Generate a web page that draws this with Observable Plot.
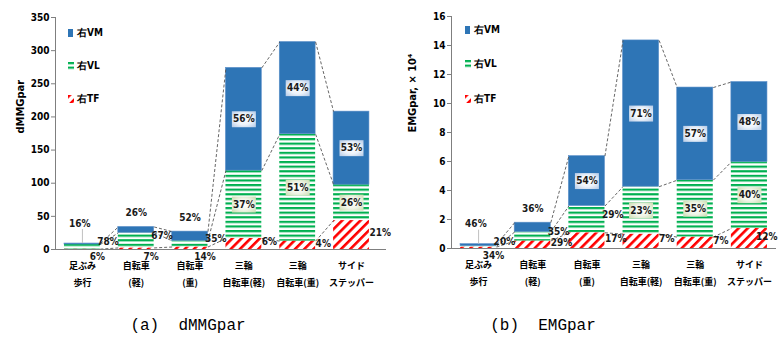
<!DOCTYPE html>
<html><head><meta charset="utf-8">
<script src="https://cdn.jsdelivr.net/npm/d3@7"></script>
<script src="https://cdn.jsdelivr.net/npm/@observablehq/plot@0.6"></script>
<style>
body{margin:0;background:#fff;width:778px;height:344px;position:relative;overflow:hidden}
#row{display:flex;position:absolute;left:0;top:0}
.leg{position:absolute;font:bold 10px "DejaVu Sans Condensed","DejaVu Sans",sans-serif;display:flex;align-items:center;gap:3px;line-height:12px}
.cap{position:absolute;top:317px;font:16px "Liberation Mono",monospace;white-space:pre;transform:translateX(-50%)}
</style></head><body>
<svg width="0" height="0" style="position:absolute">
<defs>
<pattern id="pVL" width="6" height="4.6" patternUnits="userSpaceOnUse"><rect width="6" height="4.6" fill="#fff"/><rect y="0" width="6" height="2.2" fill="#00b050"/></pattern>
<pattern id="pTF" width="6.5" height="6.5" patternUnits="userSpaceOnUse" patternTransform="rotate(45)"><rect width="6.5" height="6.5" fill="#fff"/><rect width="2.6" height="6.5" fill="#ff0000"/></pattern>
<radialGradient id="gVM" cx="50%" cy="50%" r="70%"><stop offset="0" stop-color="#ffffff"/><stop offset="0.5" stop-color="#edf3fa"/><stop offset="1" stop-color="#b3c9e6"/></radialGradient>
<radialGradient id="gVL" cx="50%" cy="50%" r="70%"><stop offset="0" stop-color="#ffffff"/><stop offset="0.5" stop-color="#f0f5e8"/><stop offset="1" stop-color="#c8dcae"/></radialGradient>
</defs></svg>
<div id="row"></div>
<div class="leg" style="left:68px;top:27px"><svg width="6" height="8"><rect width="5" height="8" fill="#2e75b6"/></svg>右VM</div>
<div class="leg" style="left:68px;top:60px"><svg width="6" height="8"><rect width="6" height="8" fill="url(#pVL)"/></svg>右VL</div>
<div class="leg" style="left:68px;top:93px"><svg width="6" height="8"><rect width="6" height="8" fill="url(#pTF)"/></svg>右TF</div>
<div class="leg" style="left:465px;top:24px"><svg width="6" height="8"><rect width="5" height="8" fill="#2e75b6"/></svg>右VM</div>
<div class="leg" style="left:465px;top:58px"><svg width="6" height="8"><rect width="6" height="8" fill="url(#pVL)"/></svg>右VL</div>
<div class="leg" style="left:465px;top:93px"><svg width="6" height="8"><rect width="6" height="8" fill="url(#pTF)"/></svg>右TF</div>
<div class="cap" style="left:188px">(a)  dMMGpar</div>
<div class="cap" style="left:543px">(b)  EMGpar</div>
<script>
const categories = ["足ぶみ\n歩行", "自転車\n(軽)", "自転車\n(重)", "三輪\n自転車(軽)", "三輪\n自転車(重)", "サイド\nステッパー"];

const dmmgTotal = [9, 34, 27, 274, 313, 208];
const dmmgVM = [16, 26, 52, 56, 44, 53];
const dmmgVL = [78, 67, 35, 37, 51, 26];
const dmmgTF = [6, 7, 14, 6, 4, 21];
const dmmgTicks = [0, 50, 100, 150, 200, 250, 300, 350];

const emgTotal = [0.3, 1.78, 6.37, 14.35, 11.1, 11.48];
const emgVM = [46, 36, 54, 71, 57, 48];
const emgVL = [20, 35, 29, 23, 35, 40];
const emgTF = [34, 29, 17, 7, 7, 12];
const emgTicks = [0, 2, 4, 6, 8, 10, 12, 14, 16];

const NUM_FONT = '"DejaVu Sans Condensed","Liberation Sans Narrow","DejaVu Sans",sans-serif';
const CJK_FONT = '"Noto Sans CJK JP",sans-serif';
const boxSym = {draw(ctx) { ctx.moveTo(-12, -8); ctx.lineTo(12, -8); ctx.lineTo(12, 8); ctx.lineTo(-12, 8); ctx.closePath(); }};

function panel(o) {
  const hw = 0.333;
  const pxPerUnit = (o.height - o.mT - o.mB) / o.ymax;
  const pxPerX = (o.width - o.mL - o.mR) / (o.xMax + 0.5);
  const rows = [];
  o.total.forEach((t, i) => {
    const parts = [["TF", o.pTF[i]], ["VL", o.pVL[i]], ["VM", o.pVM[i]]];
    const sum = d3.sum(parts, p => p[1]);
    let cum = 0;
    for (const [s, p] of parts) {
      const seg = t * p / sum;
      rows.push({i, s, y1: cum, y2: cum + seg, mid: cum + seg / 2, pct: p + "%", px: seg * pxPerUnit});
      cum += seg;
    }
  });
  const links = [];
  for (const s of ["TF", "VL", "VM"]) {
    const r = rows.filter(d => d.s === s);
    for (let k = 0; k < r.length - 1; k++) links.push({x1: r[k].i + hw, y1: r[k].y2, x2: r[k + 1].i - hw, y2: r[k + 1].y2});
  }
  const txt = {fontFamily: NUM_FONT, fontWeight: "bold", fontSize: 10, fill: "#1a1a1a", text: "pct"};
  const inside = rows.filter(d => d.s !== "TF" && d.px >= 30);
  const vmOut = rows.filter(d => d.s === "VM" && d.px < 30);
  const vlOut = rows.filter(d => d.s === "VL" && d.px < 30);
  const tfSmall = rows.filter(d => d.s === "TF" && d.px < 6);
  const tfOut = rows.filter(d => d.s === "TF" && d.px >= 6);
  const fits = d => o.mL + (d.i + hw + 0.5) * pxPerX + 20 <= o.width;
  return Plot.plot({
    width: o.width, height: o.height,
    marginLeft: o.mL, marginRight: o.mR, marginTop: o.mT, marginBottom: o.mB,
    style: {fontFamily: NUM_FONT, fontSize: "10px", background: "#fff", color: "#000"},
    x: {domain: [-0.5, o.xMax], axis: null},
    y: {domain: [0, o.ymax], axis: null},
    marks: [
      Plot.rectY(rows.filter(d => d.s === "TF"), {x1: d => d.i - hw, x2: d => d.i + hw, y1: "y1", y2: "y2", fill: "url(#pTF)"}),
      Plot.rectY(rows.filter(d => d.s === "VL"), {x1: d => d.i - hw, x2: d => d.i + hw, y1: "y1", y2: "y2", fill: "url(#pVL)"}),
      Plot.rectY(rows.filter(d => d.s === "VM"), {x1: d => d.i - hw, x2: d => d.i + hw, y1: "y1", y2: "y2", fill: "#2e75b6", stroke: "#5b8fc9", strokeWidth: 0.6}),
      Plot.link(links, {x1: "x1", y1: "y1", x2: "x2", y2: "y2", stroke: "#555", strokeWidth: 0.9, strokeDasharray: "3,2"}),
      Plot.ruleY([0], {stroke: "#7f7f7f"}),
      Plot.frame({anchor: "left", stroke: "#7f7f7f"}),
      Plot.axisY({ticks: o.ticks, tickSize: 4, tickPadding: 2, stroke: "#7f7f7f", fontWeight: "bold", fontSize: 10, label: null}),
      Plot.axisX({ticks: categories.map((_, i) => i), tickFormat: i => categories[i], tickSize: 0, tickPadding: 8, lineHeight: 1.85, fontFamily: CJK_FONT, fontWeight: "bold", fontSize: 9, label: null}),
      Plot.text([o.label], {frameAnchor: "left", rotate: -90, dx: -o.labelOff, text: d => d, fontWeight: "bold", fontSize: 11, fontFamily: NUM_FONT}),
      Plot.dot(inside, {x: "i", y: "mid", symbol: boxSym, r: 5, fill: d => d.s === "VM" ? "url(#gVM)" : "url(#gVL)", stroke: "none"}),
      Plot.text(inside, {x: "i", y: "mid", ...txt}),
      Plot.ruleX(vmOut.filter(d => d.px < 3), {x: "i", y1: "y2", y2: d => d.y2 + 14 / pxPerUnit, stroke: "#c0c0c0"}),
      Plot.text(vmOut.filter(d => d.px < 3), {x: d => d.i - 0.05, y: "y2", dy: -20, ...txt}),
      Plot.text(vmOut.filter(d => d.px >= 3), {x: "i", y: "y2", dy: -14, ...txt}),
      Plot.text(vlOut, {x: d => d.i + hw, y: "mid", textAnchor: "start", dx: -3, dy: -5, ...txt}),
      Plot.text(tfSmall, {x: d => d.i + hw, y: 0, textAnchor: "middle", dx: -3, dy: 7, ...txt}),
      Plot.text(tfOut.filter(fits), {x: d => d.i + hw, y: "mid", textAnchor: "start", dx: 0, dy: -2, ...txt}),
      Plot.text(tfOut.filter(d => !fits(d)), {x: d => d.i + hw, y: "mid", textAnchor: "end", dx: 10, dy: -2, ...txt})
    ]
  });
}

const row = document.getElementById("row");
row.append(panel({total: dmmgTotal, pVM: dmmgVM, pVL: dmmgVL, pTF: dmmgTF, ticks: dmmgTicks, ymax: 350,
  label: "dMMGpar", labelOff: 35, width: 395, height: 294, mL: 55, mR: 9, mT: 17, mB: 45, xMax: 5.65}));
row.append(panel({total: emgTotal, pVM: emgVM, pVL: emgVL, pTF: emgTF, ticks: emgTicks, ymax: 16,
  label: "EMGpar, × 10⁴", labelOff: 39, width: 383, height: 294, mL: 56, mR: 2, mT: 16, mB: 46, xMax: 5.5}));
</script>
</body></html>
